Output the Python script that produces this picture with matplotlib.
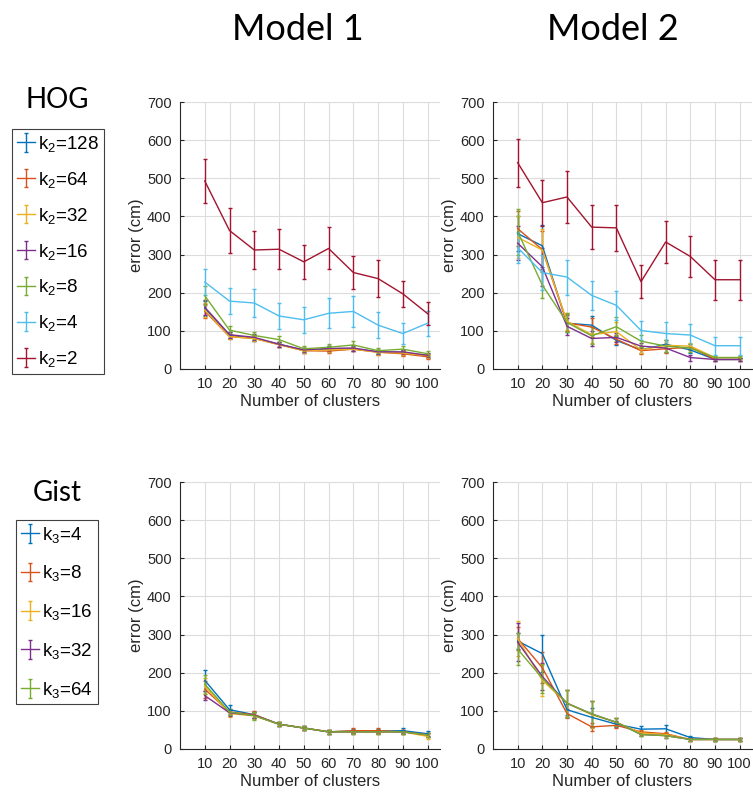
import numpy as np
import matplotlib
matplotlib.use('Agg')
import matplotlib.pyplot as plt

# Shared x values
clusters = [10, 20, 30, 40, 50, 60, 70, 80, 90, 100]

# MATLAB default line colours
colors = ['#0072BD', '#D95319', '#EDB120', '#7E2F8E', '#77AC30', '#4DBEEE', '#A2142F']

# HOG, Model 1 (k2 = 128, 64, 32, 16, 8, 4, 2)
hog_labels = ['k$_2$=128', 'k$_2$=64', 'k$_2$=32', 'k$_2$=16', 'k$_2$=8', 'k$_2$=4', 'k$_2$=2']
hog_m1 = [
    [158, 88, 81, 65, 49, 52, 53, 45, 43, 35],
    [152, 85, 80, 64, 48, 47, 52, 44, 40, 32],
    [155, 85, 80, 64, 48, 50, 52, 44, 42, 35],
    [162, 90, 83, 65, 50, 54, 55, 45, 45, 36],
    [192, 102, 88, 77, 53, 57, 63, 48, 52, 40],
    [228, 178, 173, 139, 129, 146, 151, 115, 93, 120],
    [493, 363, 312, 314, 281, 316, 253, 237, 197, 145],
]
hog_m1_err = [
    [20, 8, 8, 7, 6, 7, 7, 6, 6, 5],
    [18, 7, 7, 6, 6, 6, 6, 6, 6, 5],
    [18, 7, 7, 6, 6, 6, 6, 6, 6, 5],
    [20, 8, 8, 7, 6, 7, 7, 6, 6, 5],
    [25, 12, 10, 10, 7, 8, 10, 7, 8, 6],
    [35, 35, 36, 33, 34, 39, 40, 35, 28, 33],
    [57, 58, 51, 53, 45, 55, 44, 48, 35, 30],
]

# HOG, Model 2
hog_m2 = [
    [355, 323, 120, 115, 75, 50, 65, 50, 25, 25],
    [368, 313, 121, 110, 78, 48, 53, 57, 25, 25],
    [345, 312, 125, 90, 98, 50, 62, 60, 30, 30],
    [330, 268, 112, 80, 83, 60, 55, 30, 25, 25],
    [360, 220, 122, 87, 111, 73, 60, 55, 30, 30],
    [318, 253, 241, 193, 167, 101, 93, 89, 61, 61],
    [541, 436, 451, 372, 370, 229, 333, 295, 234, 234],
]
hog_m2_err = [
    [45, 55, 22, 25, 12, 8, 10, 8, 5, 5],
    [45, 50, 22, 25, 12, 8, 10, 8, 5, 5],
    [55, 55, 22, 22, 25, 8, 10, 8, 5, 5],
    [45, 50, 22, 20, 12, 8, 10, 8, 5, 5],
    [60, 33, 25, 22, 25, 15, 15, 10, 5, 5],
    [40, 45, 46, 38, 38, 26, 30, 30, 24, 24],
    [63, 60, 67, 57, 60, 43, 55, 55, 52, 52],
]

# Gist, Model 1 (k3 = 4, 8, 16, 32, 64)
gist_labels = ['k$_3$=4', 'k$_3$=8', 'k$_3$=16', 'k$_3$=32', 'k$_3$=64']
gist_m1 = [
    [180, 103, 90, 65, 55, 45, 47, 47, 48, 40],
    [157, 97, 90, 65, 55, 45, 48, 48, 45, 37],
    [165, 93, 87, 65, 55, 45, 45, 45, 45, 33],
    [140, 95, 88, 65, 55, 45, 45, 45, 45, 37],
    [170, 97, 87, 65, 55, 45, 45, 45, 45, 37],
]
gist_m1_err = [
    [27, 12, 8, 6, 6, 6, 6, 6, 6, 6],
    [22, 8, 10, 6, 6, 6, 6, 6, 6, 6],
    [22, 8, 8, 6, 6, 6, 6, 6, 6, 6],
    [12, 8, 8, 6, 6, 6, 6, 6, 6, 6],
    [25, 8, 10, 6, 6, 6, 6, 6, 6, 6],
]

# Gist, Model 2
gist_m2 = [
    [283, 250, 103, 83, 65, 52, 53, 30, 25, 25],
    [290, 213, 93, 58, 62, 45, 40, 25, 25, 25],
    [290, 180, 120, 90, 70, 42, 38, 25, 25, 25],
    [280, 190, 120, 92, 70, 38, 35, 25, 25, 25],
    [262, 185, 120, 92, 70, 38, 35, 25, 25, 25],
]
gist_m2_err = [
    [22, 48, 15, 25, 8, 8, 10, 5, 3, 3],
    [30, 40, 12, 10, 8, 5, 5, 3, 3, 3],
    [45, 40, 35, 35, 10, 5, 5, 3, 3, 3],
    [50, 35, 35, 35, 10, 5, 5, 3, 3, 3],
    [42, 38, 35, 35, 10, 5, 5, 3, 3, 3],
]

plt.rcParams['font.family'] = ['Liberation Sans', 'DejaVu Sans']
plt.rcParams['mathtext.fontset'] = 'custom'
plt.rcParams['mathtext.rm'] = 'Liberation Sans'
plt.rcParams['mathtext.it'] = 'Liberation Sans'

fig = plt.figure(figsize=(7.53, 7.93), dpi=100)

W, H = 753, 793
def axes_px(x0, y0, x1, y1):
    return fig.add_axes([x0 / W, 1 - y1 / H, (x1 - x0) / W, (y1 - y0) / H])

ax_tl = axes_px(180, 102, 440, 369)
ax_tr = axes_px(493, 102, 752, 369)
ax_bl = axes_px(180, 482, 440, 749)
ax_br = axes_px(493, 482, 752, 749)


def draw(ax, data, errs):
    handles = []
    for i, (vals, err) in enumerate(zip(data, errs)):
        h = ax.errorbar(clusters, vals, yerr=err, color=colors[i], lw=1.0,
                        elinewidth=1.0, capsize=1.5, capthick=1.0)
        handles.append(h)
    ax.set_xlim(0, 105)
    ax.set_ylim(0, 700)
    ax.set_xticks(clusters)
    ax.set_yticks(range(0, 701, 100))
    ax.grid(True, color='#dcdcdc', lw=0.8)
    ax.set_axisbelow(True)
    for s in ['top', 'right']:
        ax.spines[s].set_visible(False)
    for s in ['left', 'bottom']:
        ax.spines[s].set_color('#262626')
        ax.spines[s].set_linewidth(0.8)
    ax.tick_params(direction='in', length=3, labelsize=10.5, colors='#262626', pad=6)
    ax.set_xlabel('Number of clusters', fontsize=12, color='#262626', labelpad=2)
    ax.set_ylabel('error (cm)', fontsize=12, color='#262626', labelpad=2)
    return handles


h_hog = draw(ax_tl, hog_m1, hog_m1_err)
draw(ax_tr, hog_m2, hog_m2_err)
h_gist = draw(ax_bl, gist_m1, gist_m1_err)
draw(ax_br, gist_m2, gist_m2_err)

title_font = ['Lato', 'DejaVu Sans']
fig.text(298 / W, 1 - 30 / H, 'Model 1', fontsize=26, family=title_font, ha='center', va='center')
fig.text(613 / W, 1 - 30 / H, 'Model 2', fontsize=26, family=title_font, ha='center', va='center')
fig.text(57 / W, 1 - 100 / H, 'HOG', fontsize=20, family=title_font, ha='center', va='center')
fig.text(57 / W, 1 - 493 / H, 'Gist', fontsize=20, family=title_font, ha='center', va='center')

leg_kw = dict(loc='upper left', fontsize=13.5, handlelength=1.0, handletextpad=0.15,
              borderpad=0.25, borderaxespad=0, fancybox=False,
              edgecolor='#404040', framealpha=1)
l1 = fig.legend(h_hog, hog_labels, bbox_to_anchor=(12 / W, 1 - 129 / H),
                labelspacing=0.85, **leg_kw)
l2 = fig.legend(h_gist, gist_labels, bbox_to_anchor=(16 / W, 1 - 520 / H),
                labelspacing=1.0, **leg_kw)
for l in (l1, l2):
    l.get_frame().set_linewidth(0.8)

fig.savefig('out.png', dpi=100)
